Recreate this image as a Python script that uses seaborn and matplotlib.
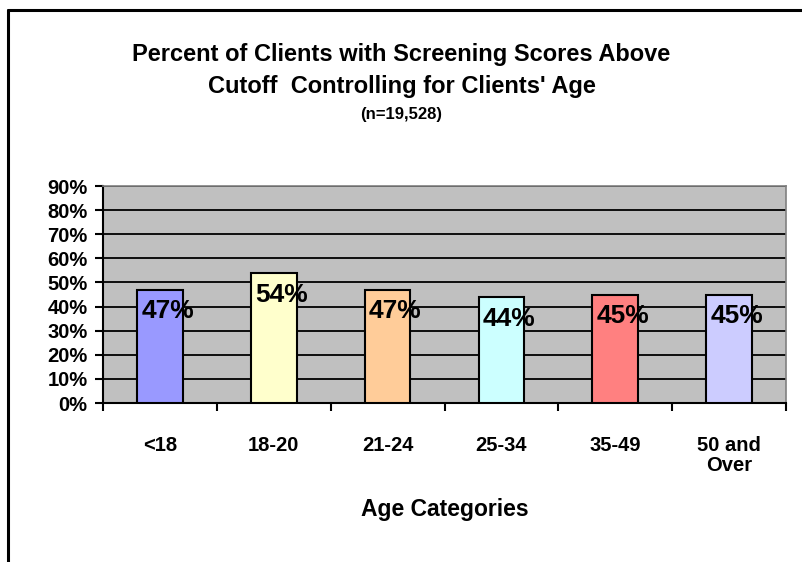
import matplotlib
matplotlib.use("Agg")
import matplotlib.pyplot as plt
import seaborn as sns
import pandas as pd
from matplotlib.ticker import PercentFormatter, FixedLocator

# chart data
age_groups = ['<18', '18-20', '21-24', '25-34', '35-49', '50 and\nOver']
pct_above = [0.47, 0.54, 0.47, 0.44, 0.45, 0.45]
bar_labels = ['47%', '54%', '47%', '44%', '45%', '45%']
bar_colors = ['#9999FF', '#FFFFCC', '#FFCC99', '#CCFFFF', '#FF8080', '#CCCCFF']

df = pd.DataFrame({'age': age_groups, 'pct': pct_above})

sns.set_style('white')
plt.rcParams['font.family'] = ['Liberation Sans', 'DejaVu Sans']
plt.rcParams['font.weight'] = 'bold'
for key in ['text.color', 'axes.labelcolor', 'xtick.color', 'ytick.color']:
    plt.rcParams[key] = 'black'

fig = plt.figure(figsize=(8.03, 5.62), dpi=100)
ax = fig.add_axes([0.1283, 0.2829, 0.8505, 0.3861])
ax.set_facecolor('#C0C0C0')

sns.barplot(data=df, x='age', y='pct', hue='age', palette=bar_colors, saturation=1,
            width=0.4, edgecolor='black', linewidth=1.5, legend=False,
            ax=ax, zorder=3)

# labels sit just inside the top of each bar, shifted right
for i, (v, lab) in enumerate(zip(pct_above, bar_labels)):
    ax.annotate(lab, xy=(i - 0.2, v), xytext=(3, -7), textcoords='offset points',
                ha='left', va='top', fontsize=19, fontweight='bold', zorder=4)

ax.set_ylim(0, 0.9)
ax.set_xlim(-0.5, len(age_groups) - 0.5)
ax.yaxis.set_major_locator(FixedLocator([i / 10 for i in range(10)]))
ax.yaxis.set_major_formatter(PercentFormatter(1.0, decimals=0))
ax.grid(axis='y', color='black', linewidth=1.3, zorder=1)
ax.set_axisbelow(True)

# category boundaries as major ticks, names on minor ticks
ax.set_xticks([i - 0.5 for i in range(len(age_groups) + 1)])
ax.set_xticklabels([])
ax.set_xticks(range(len(age_groups)), minor=True)
ax.set_xticklabels(age_groups, minor=True, fontsize=14.5, fontweight='bold', linespacing=1.05)
ax.tick_params(axis='x', which='major', direction='out', length=6, width=1.5, color='black', bottom=True)
ax.tick_params(axis='x', which='minor', length=0, pad=24)
ax.tick_params(axis='y', direction='out', length=6, width=1.5, color='black', left=True,
               labelsize=14.5, pad=5)
for t in ax.get_yticklabels():
    t.set_fontweight('bold')

for side in ['top', 'right']:
    ax.spines[side].set_color('#808080')
    ax.spines[side].set_linewidth(1.2)
for side in ['left', 'bottom']:
    ax.spines[side].set_color('black')
    ax.spines[side].set_linewidth(1.5)

ax.set_xlabel('Age Categories', fontsize=16.5, fontweight='bold')
ax.xaxis.set_label_coords(0.5, (403 - 509) / 217)
ax.xaxis.label.set_va('center')
ax.set_ylabel('')

fig.text(0.5, 1 - 54 / 562, 'Percent of Clients with Screening Scores Above',
         ha='center', va='center', fontsize=17, fontweight='bold')
fig.text(0.5, 1 - 87 / 562, "Cutoff  Controlling for Clients' Age",
         ha='center', va='center', fontsize=17, fontweight='bold')
fig.text(0.5, 1 - 114 / 562, '(n=19,528)',
         ha='center', va='center', fontsize=12, fontweight='bold')

# chart frame: top and left edges only
fig.add_artist(plt.Line2D([8 / 803, 1.0], [1 - 10 / 562, 1 - 10 / 562], color='black', linewidth=2.2))
fig.add_artist(plt.Line2D([8 / 803, 8 / 803], [0, 1 - 10 / 562], color='black', linewidth=2.2))

fig.savefig('out.png', dpi=100)
